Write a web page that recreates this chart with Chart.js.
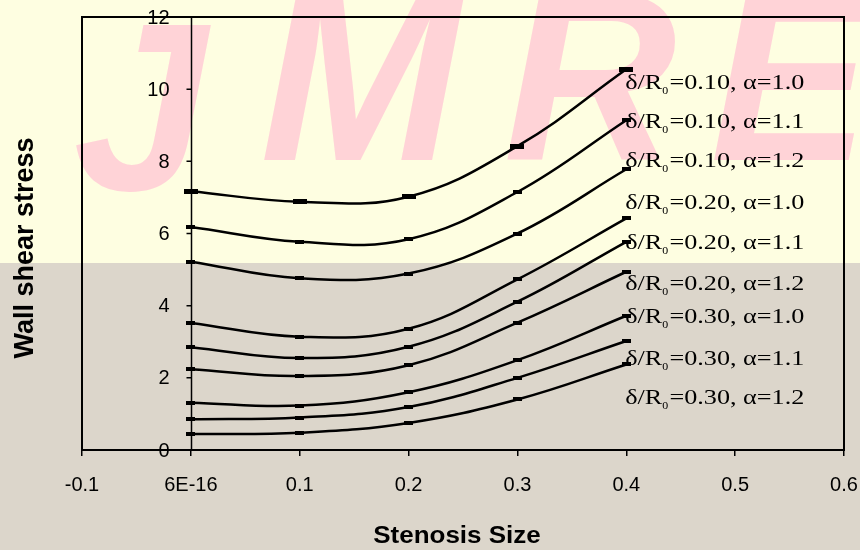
<!DOCTYPE html>
<html>
<head>
<meta charset="utf-8">
<script src="https://cdn.jsdelivr.net/npm/chart.js@4.4.1/dist/chart.umd.min.js"></script>
<style>
  html, body { margin: 0; padding: 0; background: #FEFEE1; }
  #wrap { width: 860px; height: 550px; position: relative; }
</style>
</head>
<body>
<div id="wrap"><canvas id="c" width="860" height="550"></canvas></div>
<script>
// ---- data ----
const stenosisSize = [0, 0.1, 0.2, 0.3, 0.4];
const s_010_10 = [7.17, 6.88, 7.02, 8.42, 10.55];
const s_010_11 = [6.18, 5.77, 5.84, 7.15, 9.14];
const s_010_12 = [5.22, 4.76, 4.89, 6.00, 7.78];
const s_020_10 = [3.52, 3.14, 3.36, 4.73, 6.42];
const s_020_11 = [2.85, 2.55, 2.86, 4.11, 5.77];
const s_020_12 = [2.24, 2.05, 2.35, 3.53, 4.94];
const s_030_10 = [1.31, 1.23, 1.60, 2.49, 3.72];
const s_030_11 = [0.85, 0.90, 1.19, 2.00, 3.02];
const s_030_12 = [0.44, 0.48, 0.75, 1.40, 2.37];
const deltaRatio = ['0.10', '0.10', '0.10', '0.20', '0.20', '0.20', '0.30', '0.30', '0.30'];
const alphaVal   = ['1.0', '1.1', '1.2', '1.0', '1.1', '1.2', '1.0', '1.1', '1.2'];
// value on the y scale at which each series label sits
const labelAnchorY = [10.0, 8.92, 7.84, 6.67, 5.56, 4.43, 3.53, 2.36, 1.27];
const labelAnchorX = 0.399;
const xTicks = [-0.1, 0, 0.1, 0.2, 0.3, 0.4, 0.5, 0.6];
const yTicks = [0, 2, 4, 6, 8, 10, 12];

const allSeries = [s_010_10, s_010_11, s_010_12, s_020_10, s_020_11, s_020_12, s_030_10, s_030_11, s_030_12];

function markerCanvas(w, h) {
  const c = document.createElement('canvas');
  c.width = w; c.height = h;
  const g = c.getContext('2d');
  g.fillStyle = '#000';
  g.fillRect(0, 0, w, h);
  return c;
}
const bigMarker = markerCanvas(14, 5);
const smallMarker = markerCanvas(9, 4);

const datasets = allSeries.map((vals, i) => ({
  label: 'δ/R0=' + deltaRatio[i] + ', α=' + alphaVal[i],
  data: stenosisSize.map((x, j) => ({ x: x, y: vals[j] })),
  borderColor: '#000',
  backgroundColor: '#000',
  borderWidth: 2.5,
  tension: 0.4,
  pointStyle: i === 0 ? bigMarker : smallMarker,
  pointRadius: 4,
  pointHoverRadius: 4,
  fill: false
}));

const bgPlugin = {
  id: 'bg',
  beforeDraw(chart) {
    const ctx = chart.ctx;
    const W = chart.width, H = chart.height;
    ctx.save();
    ctx.fillStyle = '#FEFEE1';
    ctx.fillRect(0, 0, W, H);
    ctx.beginPath();
    ctx.rect(0, 0, W, 263);
    ctx.clip();
    ctx.fillStyle = '#FFD3D7';
    ctx.font = 'italic bold 240px "Liberation Sans"';
    ctx.textAlign = 'center';
    ctx.textBaseline = 'alphabetic';
    [['J', 140, 190], ['M', 360, 160], ['R', 590, 160], ['E', 790, 160]].forEach(l => {
      ctx.fillText(l[0], l[1], l[2]);
    });
    ctx.restore();
    ctx.save();
    ctx.fillStyle = '#DCD6CB';
    ctx.fillRect(0, 263, W, H - 263);
    ctx.restore();
  }
};

const framePlugin = {
  id: 'frame',
  beforeDatasetsDraw(chart) {
    const { ctx, chartArea } = chart;
    const xs = chart.scales.x, ys = chart.scales.y;
    ctx.save();
    ctx.strokeStyle = '#000';
    ctx.lineWidth = 2;
    ctx.strokeRect(chartArea.left, chartArea.top, chartArea.right - chartArea.left, chartArea.bottom - chartArea.top);
    // y axis placed at x = 0
    const ax = Math.round(xs.getPixelForValue(0)) + 0.5;
    ctx.lineWidth = 1.5;
    ctx.beginPath();
    ctx.moveTo(ax, chartArea.top);
    ctx.lineTo(ax, chartArea.bottom);
    yTicks.forEach(v => {
      const py = ys.getPixelForValue(v);
      ctx.moveTo(ax, py);
      ctx.lineTo(ax - 5, py);
    });
    ctx.stroke();
    ctx.fillStyle = '#000';
    ctx.font = '20px "Liberation Sans"';
    ctx.textAlign = 'right';
    ctx.textBaseline = 'middle';
    yTicks.forEach(v => {
      ctx.fillText(String(v), ax - 22, ys.getPixelForValue(v) + 1);
    });
    ctx.restore();
  },
  afterDraw(chart) {
    const { ctx } = chart;
    const xs = chart.scales.x, ys = chart.scales.y;
    ctx.save();
    ctx.fillStyle = '#000';
    allSeries.forEach((v, i) => {
      const px = xs.getPixelForValue(labelAnchorX);
      const py = ys.getPixelForValue(labelAnchorY[i]);
      ctx.save();
      ctx.translate(px, py);
      ctx.scale(1.19, 1);
      ctx.textBaseline = 'alphabetic';
      ctx.textAlign = 'left';
      ctx.font = '22px "Liberation Serif"';
      let cx = 0;
      ctx.fillText('δ/R', cx, 0);
      cx += ctx.measureText('δ/R').width;
      ctx.font = '10px "Liberation Serif"';
      ctx.fillText('0', cx, 5);
      cx += ctx.measureText('0').width + 1;
      ctx.font = '22px "Liberation Serif"';
      ctx.fillText('=' + deltaRatio[i] + ', α=' + alphaVal[i], cx, 0);
      ctx.restore();
    });
    ctx.save();
    ctx.font = 'bold 23px "Liberation Sans"';
    ctx.textAlign = 'center';
    ctx.textBaseline = 'alphabetic';
    ctx.translate(457, 543);
    ctx.scale(1.13, 1);
    ctx.fillText('Stenosis Size', 0, 0);
    ctx.restore();
    ctx.save();
    ctx.font = 'bold 27px "Liberation Sans"';
    ctx.textAlign = 'center';
    ctx.textBaseline = 'alphabetic';
    ctx.translate(33, 248);
    ctx.rotate(-Math.PI / 2);
    ctx.fillText('Wall shear stress', 0, 0);
    ctx.restore();
    ctx.restore();
  }
};

new Chart(document.getElementById('c'), {
  type: 'line',
  data: { datasets: datasets },
  options: {
    responsive: false,
    animation: false,
    events: [],
    layout: { padding: { left: 82, right: 16, top: 17, bottom: 36 } },
    plugins: { legend: { display: false }, tooltip: { enabled: false } },
    scales: {
      x: {
        type: 'linear',
        position: 'bottom',
        min: -0.1, max: 0.6,
        afterBuildTicks(scale) { scale.ticks = xTicks.map(v => ({ value: v })); },
        afterFit(scale) { scale.paddingLeft = 0; scale.paddingRight = 0; },
        ticks: {
          color: '#000',
          font: { family: '"Liberation Sans"', size: 20 },
          padding: 17,
          maxRotation: 0,
          autoSkip: false,
          callback: (v) => Math.abs(v) < 1e-9 ? '6E-16' : String(Math.round(v * 10) / 10)
        },
        grid: { drawOnChartArea: false, drawTicks: true, tickLength: 6, color: '#000', lineWidth: 1.5 },
        border: { display: true, color: '#000', width: 2 }
      },
      y: {
        type: 'linear',
        display: false,
        min: 0, max: 12,
        afterBuildTicks(scale) { scale.ticks = yTicks.map(v => ({ value: v })); }
      }
    }
  },
  plugins: [bgPlugin, framePlugin]
});
</script>
</body>
</html>
